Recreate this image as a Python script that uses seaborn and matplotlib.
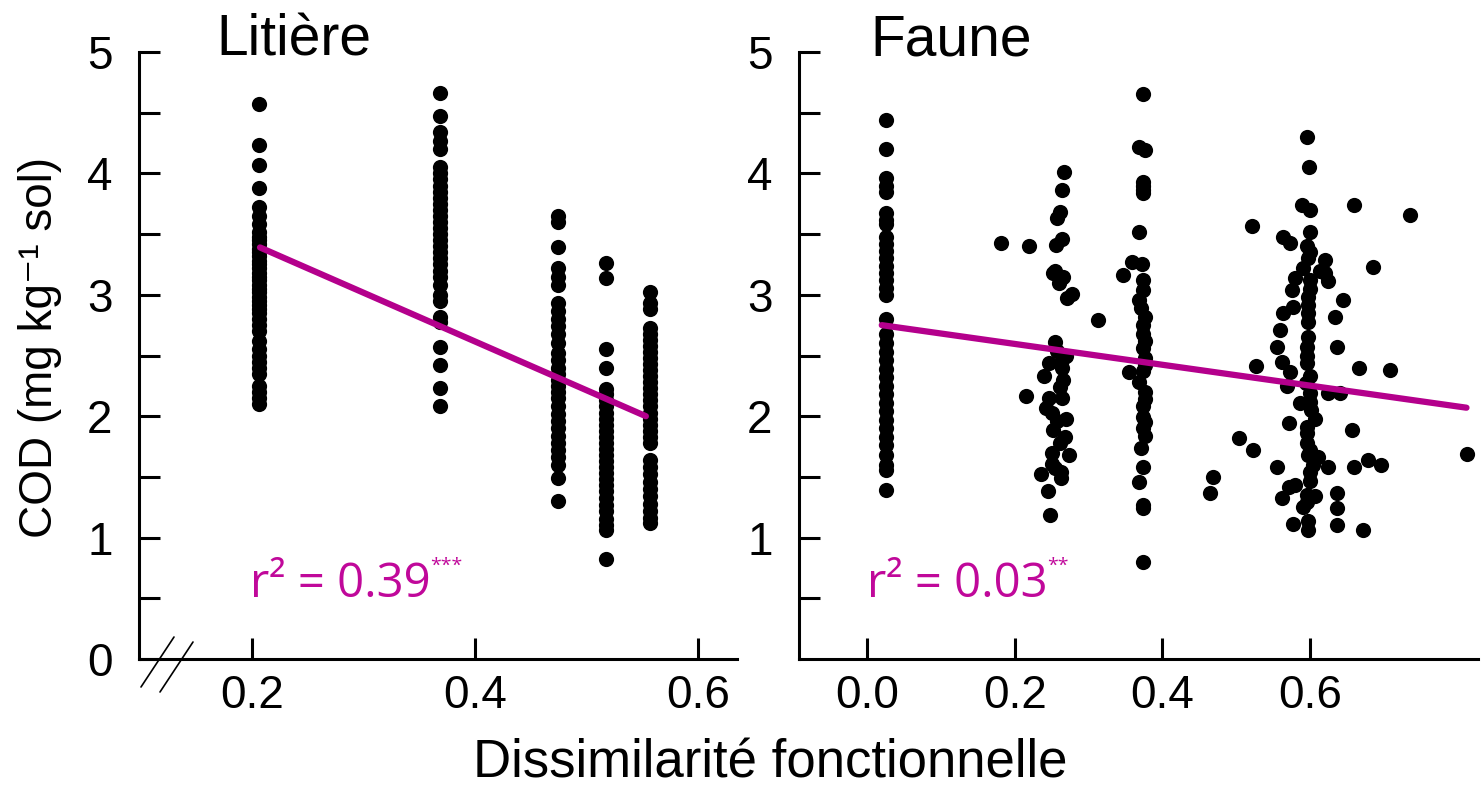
import numpy as np
import pandas as pd
import matplotlib
matplotlib.use("Agg")
import matplotlib.pyplot as plt
import seaborn as sns
from matplotlib.ticker import FixedLocator

# ---------------- data ----------------
# Litière panel: five columns of points
lit_x = [0.206, 0.368, 0.4746, 0.517, 0.5565]
lit_y0 = [4.57, 4.23, 4.07, 3.88, 3.72, 3.65, 3.58, 3.52, 3.48, 3.45, 3.42, 3.38, 3.35, 3.32,
          3.28, 3.25, 3.22, 3.18, 3.15, 3.12, 3.08, 3.05, 3.02, 2.98, 2.95, 2.92, 2.88, 2.85,
          2.80, 2.75, 2.70, 2.62, 2.55, 2.50, 2.45, 2.40, 2.35, 2.25, 2.20, 2.15, 2.10]
lit_y1 = [4.66, 4.47, 4.34, 4.27, 4.20, 4.05, 4.00, 3.95, 3.90, 3.85, 3.80, 3.75, 3.70, 3.65,
          3.60, 3.55, 3.50, 3.45, 3.40, 3.35, 3.30, 3.25, 3.20, 3.15, 3.08, 3.00, 2.95, 2.82,
          2.78, 2.57, 2.42, 2.23, 2.08]
lit_y2 = [3.65, 3.60, 3.39, 3.22, 3.15, 3.08, 2.93, 2.87, 2.80, 2.74, 2.68, 2.60, 2.52, 2.46,
          2.40, 2.35, 2.30, 2.25, 2.20, 2.15, 2.08, 2.02, 1.96, 1.90, 1.84, 1.78, 1.72, 1.66,
          1.60, 1.49, 1.30]
lit_y3 = [3.26, 3.14, 2.55, 2.40, 2.22, 2.18, 2.13, 2.08, 2.03, 1.98, 1.93, 1.88, 1.83, 1.78,
          1.73, 1.68, 1.63, 1.58, 1.53, 1.48, 1.43, 1.38, 1.33, 1.27, 1.22, 1.15, 1.10, 1.06, 0.82]
lit_y4 = [3.02, 2.93, 2.88, 2.73, 2.68, 2.63, 2.58, 2.53, 2.48, 2.43, 2.38, 2.33, 2.28, 2.23,
          2.18, 2.13, 2.08, 2.03, 1.98, 1.93, 1.88, 1.83, 1.78, 1.64, 1.58, 1.52, 1.46, 1.40,
          1.34, 1.28, 1.22, 1.16, 1.12]
lit_fit_x = [0.207, 0.553]
lit_fit_y = [3.39, 2.00]

# Faune panel
fau_xA = [0.0255] * 36
fau_yA = [4.44, 4.20, 3.96, 3.90, 3.85, 3.67, 3.62, 3.58, 3.48, 3.42, 3.36, 3.30, 3.24, 3.18,
          3.12, 3.06, 3.00, 2.80, 2.68, 2.60, 2.53, 2.46, 2.39, 2.32, 2.25, 2.18, 2.11, 2.04,
          1.97, 1.90, 1.83, 1.76, 1.68, 1.60, 1.56, 1.39]
fau_xB = [0.182, 0.219, 0.267, 0.264, 0.261, 0.258, 0.264, 0.256, 0.255, 0.265, 0.260, 0.262,
          0.277, 0.271, 0.313, 0.255, 0.246, 0.264, 0.264, 0.262, 0.215, 0.247, 0.264, 0.243,
          0.250, 0.270, 0.258, 0.252, 0.268, 0.262, 0.250, 0.273, 0.250, 0.263, 0.263, 0.236,
          0.245, 0.248, 0.258, 0.270, 0.240, 0.266, 0.252, 0.255]
fau_yB = [3.43, 3.40, 4.01, 3.86, 3.68, 3.63, 3.46, 3.41, 3.20, 3.15, 3.10, 3.12, 3.01, 2.97,
          2.79, 2.61, 2.44, 2.46, 2.40, 2.24, 2.17, 2.15, 2.15, 2.07, 2.03, 1.98, 1.96, 1.89,
          1.83, 1.78, 1.70, 1.68, 1.61, 1.54, 1.49, 1.52, 1.38, 1.19, 2.54, 2.50, 2.33, 2.30,
          3.18, 1.57]
fau_xC = [0.374, 0.368, 0.377, 0.374, 0.374, 0.369, 0.359, 0.372, 0.347, 0.374, 0.374, 0.369,
          0.371, 0.374, 0.374, 0.374, 0.355, 0.374, 0.369, 0.376, 0.374, 0.374, 0.374, 0.371,
          0.374, 0.369, 0.374, 0.374, 0.374, 0.376, 0.376, 0.376, 0.376, 0.376, 0.376, 0.376,
          0.374, 0.374]
fau_yC = [4.65, 4.22, 4.19, 3.93, 3.86, 3.52, 3.27, 3.25, 3.16, 3.12, 3.04, 2.96, 2.89, 2.75,
          2.68, 2.56, 2.36, 2.37, 2.28, 2.20, 2.08, 1.99, 1.90, 1.74, 1.58, 1.46, 1.27, 1.24,
          0.80, 2.82, 2.62, 2.48, 2.42, 2.14, 1.95, 1.84, 3.90, 3.84]
fau_xD = [0.596, 0.599, 0.589, 0.600, 0.660, 0.736, 0.521, 0.600, 0.564, 0.573, 0.596, 0.598,
          0.621, 0.686, 0.591, 0.614, 0.621, 0.580, 0.600, 0.625, 0.575, 0.598, 0.598, 0.645,
          0.577, 0.564, 0.634, 0.598, 0.598, 0.560, 0.555, 0.596, 0.596, 0.596, 0.637, 0.562,
          0.527, 0.666, 0.709, 0.573, 0.569, 0.594, 0.600, 0.625, 0.641, 0.587, 0.600, 0.607,
          0.571, 0.596, 0.596, 0.596, 0.657, 0.504, 0.523, 0.598, 0.611, 0.625, 0.556, 0.659,
          0.679, 0.696, 0.600, 0.600, 0.469, 0.465, 0.571, 0.580, 0.562, 0.637, 0.596, 0.607,
          0.596, 0.637, 0.577, 0.598, 0.598, 0.636, 0.672, 0.813, 0.600, 0.600, 0.598, 0.600,
          0.602, 0.600, 0.604, 0.590]
fau_yD = [4.30, 4.05, 3.74, 3.70, 3.74, 3.66, 3.57, 3.52, 3.48, 3.43, 3.40, 3.30, 3.29, 3.23,
          3.22, 3.20, 3.18, 3.14, 3.12, 3.11, 3.04, 2.98, 2.92, 2.96, 2.90, 2.85, 2.82, 2.85,
          2.78, 2.71, 2.57, 2.57, 2.50, 2.44, 2.57, 2.45, 2.41, 2.40, 2.38, 2.36, 2.25, 2.27,
          2.19, 2.19, 2.19, 2.11, 2.12, 1.98, 1.94, 1.91, 1.86, 1.78, 1.89, 1.82, 1.72, 1.68,
          1.66, 1.58, 1.58, 1.58, 1.64, 1.60, 1.54, 1.47, 1.50, 1.37, 1.42, 1.43, 1.33, 1.37,
          1.35, 1.34, 1.29, 1.24, 1.11, 1.14, 1.06, 1.10, 1.06, 1.69, 3.35, 3.05, 2.65, 2.33,
          2.05, 1.72, 1.60, 1.25]
fau_fit_x = [0.020, 0.812]
fau_fit_y = [2.75, 2.07]

lit_yticks = [0, 1, 2, 3, 4, 5]
fau_yticks = [1, 2, 3, 4, 5]
minor_yticks = [0.5, 1.5, 2.5, 3.5, 4.5]
lit_xticks = [0.2, 0.4, 0.6]
fau_xticks = [0.0, 0.2, 0.4, 0.6]
lit_xlabels = ["0.2", "0.4", "0.6"]
fau_xlabels = ["0.0", "0.2", "0.4", "0.6"]

titles = ["Litière", "Faune"]
r2_texts = ["r² = 0.39", "r² = 0.03"]
r2_stars = ["***", "**"]
xlabel = "Dissimilarité fonctionnelle"
ylabel = "COD (mg kg⁻¹ sol)"

# ---------------- build frames ----------------
lit_cols = [lit_y0, lit_y1, lit_y2, lit_y3, lit_y4]
lit_df = pd.DataFrame({
    "x": np.concatenate([[xv] * len(ys) for xv, ys in zip(lit_x, lit_cols)]),
    "y": np.concatenate(lit_cols),
})
fau_df = pd.DataFrame({
    "x": fau_xA + fau_xB + fau_xC + fau_xD,
    "y": fau_yA + fau_yB + fau_yC + fau_yD,
})

# ---------------- style ----------------
sns.set_theme(style="ticks")
plt.rcParams["font.family"] = ["Liberation Sans", "DejaVu Sans"]
plt.rcParams["text.color"] = "black"
plt.rcParams["axes.labelcolor"] = "black"
plt.rcParams["xtick.color"] = "black"
plt.rcParams["ytick.color"] = "black"

MAG = "#b4008c"
MAG_TXT = "#c0089a"
W, H = 1482, 787

fig = plt.figure(figsize=(W / 100, H / 100), dpi=100)
ax1 = fig.add_axes([139 / W, (H - 659) / H, 598 / W, 607 / H])
ax2 = fig.add_axes([799 / W, (H - 659) / H, 679 / W, 607 / H])

for ax, df, fx, fy in [(ax1, lit_df, lit_fit_x, lit_fit_y), (ax2, fau_df, fau_fit_x, fau_fit_y)]:
    sns.scatterplot(data=df, x="x", y="y", ax=ax, color="black", s=120,
                    linewidth=0, legend=False, zorder=2)
    sns.lineplot(x=fx, y=fy, ax=ax, color=MAG, linewidth=4.5, zorder=3)
    ax.set_ylim(0, 5)
    for s in ["top", "right"]:
        ax.spines[s].set_visible(False)
    for s in ["left", "bottom"]:
        ax.spines[s].set_linewidth(2.2)
        ax.spines[s].set_color("black")
    ax.yaxis.set_minor_locator(FixedLocator(minor_yticks))
    ax.tick_params(axis="both", which="both", direction="in", length=15, width=2.2,
                   color="black", labelcolor="black", labelsize=33)
    ax.tick_params(axis="y", which="both", pad=19)
    ax.tick_params(axis="x", which="both", pad=11)
    ax.set_xlabel("")
    ax.set_ylabel("")

ax1.set_xlim(0.0985, 0.6347)
ax1.set_yticks(lit_yticks)
ax1.set_yticklabels([str(v) for v in lit_yticks])
ax1.set_xticks(lit_xticks)
ax1.set_xticklabels(lit_xlabels)

ax2.set_xlim(-0.0921, 0.8276)
ax2.set_yticks(fau_yticks)
ax2.set_yticklabels([str(v) for v in fau_yticks])
ax2.set_xticks(fau_xticks)
ax2.set_xticklabels(fau_xlabels)

# axis break marks on the left panel
for (x0, y0, x1, y1) in [(141, 687, 174, 637), (160, 692, 193, 642)]:
    fig.add_artist(plt.Line2D([x0 / W, x1 / W], [(H - y0) / H, (H - y1) / H],
                              transform=fig.transFigure, color="black", lw=1.2))

# titles
fig.text(216 / W, (H - 55) / H, titles[0], fontsize=41, ha="left", va="baseline")
fig.text(870 / W, (H - 56) / H, titles[1], fontsize=41, ha="left", va="baseline")

# axis labels
fig.text(770 / W, (H - 778) / H, xlabel, fontsize=38, ha="center", va="baseline")
fig.text(40 / W, (H - 347) / H, ylabel, fontsize=33, ha="center", va="center",
         rotation=90, family=["Liberation Sans", "DejaVu Sans"])

# r² annotations
for xpix, txt, st in [(250, r2_texts[0], r2_stars[0]), (867, r2_texts[1], r2_stars[1])]:
    t = fig.text(xpix / W, (H - 597) / H, txt, fontsize=34, color=MAG_TXT,
                 family=["Open Sans", "DejaVu Sans"], ha="left", va="baseline")
    plt.annotate(st, xy=(1.0, 0.70), xycoords=t, fontsize=14, color=MAG_TXT,
                 family=["Open Sans", "DejaVu Sans"], ha="left", va="bottom",
                 annotation_clip=False)

fig.savefig("out.png", dpi=100)
